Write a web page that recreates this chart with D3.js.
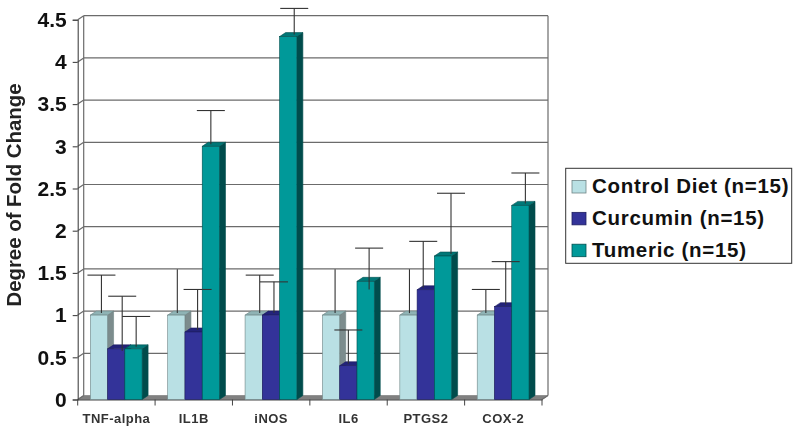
<!DOCTYPE html>
<html>
<head>
<meta charset="utf-8">
<script src="https://cdn.jsdelivr.net/npm/d3@7"></script>
<style>
  html, body { margin: 0; padding: 0; background: #fff; }
  svg { display: block; font-family: "Liberation Sans", Arial, sans-serif; filter: blur(0.4px); }
</style>
</head>
<body>
<div id="viz"></div>
<script>
const categories = ['TNF-alpha', 'IL1B', 'iNOS', 'IL6', 'PTGS2', 'COX-2'];
const seriesNames = ['Control Diet (n=15)', 'Curcumin (n=15)', 'Tumeric (n=15)'];
const yTicks = [0, 0.5, 1, 1.5, 2, 2.5, 3, 3.5, 4, 4.5];

const controlValues = [1, 1, 1, 1, 1, 1];
const curcuminValues = [0.6, 0.8, 1, 0.4, 1.3, 1.1];
const tumericValues = [0.6, 3, 4.3, 1.4, 1.7, 2.3];

// top of each error bar
const controlErrTop = [1.45, 1.52, 1.45, 1.52, 1.52, 1.28];
const curcuminErrTop = [1.2, 1.28, 1.37, 0.8, 1.85, 1.61];
const tumericErrTop = [0.96, 3.4, 4.61, 1.77, 2.42, 2.66];

// foot of each error bar, mostly the bar top but a few run into the bar
const curcuminErrFoot = [0.55, 0.8, 1, 0.4, 1.3, 1.1];
const tumericErrFoot = [0.6, 3, 4.3, 1.28, 1.7, 2.3];

// some error bars in the figure have no cross piece
const controlHasCap = [true, false, true, false, false, true];
const curcuminHasCap = [true, true, true, true, true, true];
const tumericHasCap = [true, true, true, true, true, true];

const valueTable = [controlValues, curcuminValues, tumericValues];
const errTopTable = [controlErrTop, curcuminErrTop, tumericErrTop];
const errFootTable = [controlValues, curcuminErrFoot, tumericErrFoot];
const capTable = [controlHasCap, curcuminHasCap, tumericHasCap];

// the error bars were placed by hand in the original, so they sit off centre (px)
const errNudge = [
  [2.5, 1, 6, 4, 1, 0],
  [6, 4, 3, 0, -2.5, 2.6],
  [2.7, 0, 6, 3.5, 8, 5],
];

const colors = [
  { front: '#b9e0e4', side: '#7c8c8d', top: '#8fb3b5', edge: '#6f8485' },
  { front: '#333399', side: '#20206b', top: '#23237a', edge: '#1e1e60' },
  { front: '#009999', side: '#004c4c', top: '#007777', edge: '#004f4f' },
];

const width = 800;
const height = 433;
const depthX = 6;
const depthY = 4;
const gridCol = '#6b6b6b';

const svg = d3.select('#viz').append('svg').attr('width', width).attr('height', height);

const xScale = d3.scaleBand().domain(categories).range([77.7, 542]);
const groupScale = d3.scaleBand().domain([0, 1, 2]).range([12.6, 64.4]);
const yScale = d3.scaleLinear().domain([0, 4.5]).range([399.5, 19.7]);

const left = xScale.range()[0];
const right = xScale.range()[1];
const bottom = yScale(0);

// floor
svg.append('polygon')
  .attr('points', [
    [left, bottom], [right, bottom], [right + depthX, bottom - depthY], [left + depthX, bottom - depthY],
  ].join(' '))
  .attr('fill', '#808080')
  .attr('stroke', '#666')
  .attr('stroke-width', 0.5);

// back wall grid and the diagonals on the side wall
const grid = svg.append('g').attr('class', 'grid')
  .attr('stroke', gridCol)
  .attr('stroke-width', 1.2)
  .attr('fill', 'none');

grid.selectAll('line.back')
  .data(yTicks.filter((d) => d > 0))
  .join('line')
  .attr('class', 'back')
  .attr('x1', left + depthX)
  .attr('x2', right + depthX)
  .attr('y1', (d) => yScale(d) - depthY)
  .attr('y2', (d) => yScale(d) - depthY);

grid.selectAll('line.side')
  .data(yTicks)
  .join('line')
  .attr('class', 'side')
  .attr('x1', left)
  .attr('x2', left + depthX)
  .attr('y1', (d) => yScale(d))
  .attr('y2', (d) => yScale(d) - depthY);

grid.append('line')
  .attr('x1', left + depthX).attr('x2', left + depthX)
  .attr('y1', yScale(4.5) - depthY).attr('y2', bottom - depthY);
grid.append('line')
  .attr('x1', right + depthX).attr('x2', right + depthX)
  .attr('y1', yScale(4.5) - depthY).attr('y2', bottom - depthY);
grid.append('line')
  .attr('x1', right).attr('x2', right + depthX)
  .attr('y1', bottom).attr('y2', bottom - depthY);

// axes
const yAxis = d3.axisLeft(yScale).tickValues(yTicks).tickSize(5).tickPadding(6).tickFormat((d) => String(d));
const xAxis = d3.axisBottom(xScale).tickSize(0).tickPadding(14);

const yAxisGrp = svg.append('g').attr('transform', `translate(${left},0)`).call(yAxis);
yAxisGrp.selectAll('text')
  .attr('font-size', 21)
  .attr('font-weight', 'bold')
  .attr('font-family', '"Liberation Sans", Arial, sans-serif')
  .attr('fill', '#111');

const xAxisGrp = svg.append('g').attr('transform', `translate(0,${bottom})`).call(xAxis);
xAxisGrp.selectAll('text')
  .attr('font-size', 13)
  .attr('font-weight', 'bold')
  .attr('letter-spacing', 0.45)
  .attr('font-family', '"Liberation Sans", Arial, sans-serif')
  .attr('fill', '#333');

// category boundaries get the ticks, not the band centres
svg.append('g').selectAll('line')
  .data(categories.map((c) => xScale(c)).concat([right]))
  .join('line')
  .attr('x1', (d) => d).attr('x2', (d) => d)
  .attr('y1', bottom).attr('y2', bottom + 6)
  .attr('stroke', '#444');

[yAxisGrp, xAxisGrp].forEach((g) => g.selectAll('path.domain, .tick line').attr('stroke', '#444').attr('stroke-width', 1.1));
xAxisGrp.selectAll('.tick line').remove();

// bars, back to front inside each group
const barLayer = svg.append('g').attr('class', 'bars');
const errLayer = svg.append('g').attr('class', 'errors').attr('stroke', '#333').attr('stroke-width', 1.1);

categories.forEach((cat, c) => {
  valueTable.forEach((vals, s) => {
    const x0 = xScale(cat) + groupScale(s);
    const bw = groupScale.bandwidth();
    const yTop = yScale(vals[c]);
    const col = colors[s];
    const g = barLayer.append('g');

    g.append('polygon')
      .attr('points', [
        [x0 + bw, yTop], [x0 + bw + depthX, yTop - depthY], [x0 + bw + depthX, bottom - depthY], [x0 + bw, bottom],
      ].join(' '))
      .attr('fill', col.side)
      .attr('stroke', col.edge)
      .attr('stroke-width', 0.6);
    g.append('polygon')
      .attr('points', [
        [x0, yTop], [x0 + depthX, yTop - depthY], [x0 + bw + depthX, yTop - depthY], [x0 + bw, yTop],
      ].join(' '))
      .attr('fill', col.top)
      .attr('stroke', col.edge)
      .attr('stroke-width', 0.6);
    g.append('rect')
      .attr('x', x0)
      .attr('y', yTop)
      .attr('width', bw)
      .attr('height', bottom - yTop)
      .attr('fill', col.front)
      .attr('stroke', col.edge)
      .attr('stroke-width', 0.6);

    // error bar sits mid depth of the bar
    const ex = x0 + bw / 2 + errNudge[s][c];
    const eTop = yScale(errTopTable[s][c]) - depthY / 2;
    const eFoot = yScale(errFootTable[s][c]) - depthY / 2;
    errLayer.append('line').attr('x1', ex).attr('x2', ex).attr('y1', eTop).attr('y2', eFoot);
    if (capTable[s][c]) {
      errLayer.append('line').attr('x1', ex - 14).attr('x2', ex + 14).attr('y1', eTop).attr('y2', eTop);
    }
  });
});

// y axis title
svg.append('text')
  .attr('transform', 'translate(21,195) rotate(-90)')
  .attr('text-anchor', 'middle')
  .attr('font-size', 20.4)
  .attr('font-weight', 'bold')
  .attr('fill', '#222')
  .text('Degree of Fold Change');

// legend
const legend = svg.append('g').attr('class', 'legend');
legend.append('rect')
  .attr('x', 565.7).attr('y', 168.3)
  .attr('width', 226).attr('height', 95)
  .attr('fill', '#fff')
  .attr('stroke', '#333')
  .attr('stroke-width', 1);

const rowScale = d3.scalePoint().domain(seriesNames).range([193, 256.7]);
seriesNames.forEach((name, s) => {
  legend.append('rect')
    .attr('x', 572).attr('y', rowScale(name) - 12.5)
    .attr('width', 14).attr('height', 12.5)
    .attr('fill', colors[s].front)
    .attr('stroke', colors[s].edge)
    .attr('stroke-width', 0.8);
  legend.append('text')
    .attr('x', 592).attr('y', rowScale(name))
    .attr('font-size', 20.5)
    .attr('font-weight', 'bold')
    .attr('letter-spacing', 0.7)
    .attr('fill', '#111')
    .text(name);
});
</script>
</body>
</html>
